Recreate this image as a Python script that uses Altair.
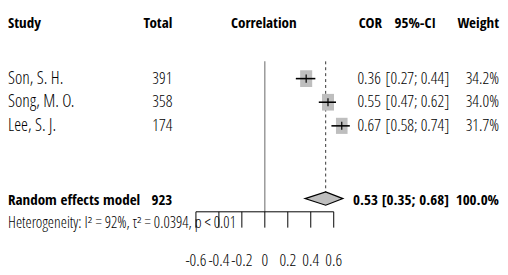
import altair as alt
import pandas as pd

# ---------------- data ----------------
studies = ["Son, S. H.", "Song, M. O.", "Lee, S. J."]
totals = [391, 358, 174]
cor = [0.36, 0.55, 0.67]
ci_lo = [0.27, 0.47, 0.58]
ci_hi = [0.44, 0.62, 0.74]
weights = [34.2, 34.0, 31.7]

pooled_label = "Random effects model"
pooled_total = 923
pooled_cor = 0.53
pooled_lo = 0.35
pooled_hi = 0.68
pooled_weight = 100.0

het_text = "Heterogeneity: I\u00b2 = 92%, \u03c4\u00b2 = 0.0394, p < 0.01"
headers = ["Study", "Total", "Correlation", "COR", "95%-CI", "Weight"]
tick_values = [-0.6, -0.4, -0.2, 0.0, 0.2, 0.4, 0.6]
tick_labels = ["-0.6", "-0.4", "-0.2", "0", "0.2", "0.4", "0.6"]

# ---------------- layout (row units, 24px each) ----------------
W, H = 500, 266
ROW_PX = 24.0
header_row = 0.55
study_rows = [2.9, 3.9, 4.9]
pooled_row = 8.06
het_row = 9.03
axis_row = 8.54
tick_end_row = 9.21
ticklab_row = 10.62
line_top = 2.17
dash_bottom = 7.72
diamond_half = 0.28
cross_half = 0.17

FONT_REG = "Open Sans Condensed Light, DejaVu Sans Condensed, sans-serif"
FONT_BOLD = "Open Sans Condensed, DejaVu Sans Condensed, sans-serif"
FS_REG = 18
FS_NUM = 17
FS_HET = 16
FS_BOLD = 15.3
GREY = "#bebebe"

X0_PX, PX_PER_UNIT = 261, 116.7
xscale = alt.Scale(domain=[-X0_PX / PX_PER_UNIT, (W - X0_PX) / PX_PER_UNIT], nice=False, zero=False)
yscale = alt.Scale(domain=[0, H / ROW_PX], reverse=True, nice=False, zero=False)

def X(field):
    return alt.X(field, type="quantitative", scale=xscale, axis=None)

def Y(field):
    return alt.Y(field, type="quantitative", scale=yscale, axis=None)

studies_df = pd.DataFrame({
    "study": studies, "total": [str(t) for t in totals], "cor": cor,
    "lo": ci_lo, "hi": ci_hi, "weight": weights, "row": study_rows,
})
studies_df["cor_t"] = [f"{c:.2f}" for c in cor]
studies_df["ci_t"] = [f"[{l:.2f}; {h:.2f}]" for l, h in zip(ci_lo, ci_hi)]
studies_df["w_t"] = [f"{w:.1f}%" for w in weights]
studies_df["r1"] = studies_df["row"] - cross_half
studies_df["r2"] = studies_df["row"] + cross_half

zero_line = alt.Chart(pd.DataFrame({"x": [0.0], "y": [line_top], "y2": [axis_row]})).mark_rule(
    color="#808080", strokeWidth=1.2).encode(x=X("x"), y=Y("y"), y2="y2")
dash_line = alt.Chart(pd.DataFrame({"x": [pooled_cor], "y": [line_top], "y2": [dash_bottom]})).mark_rule(
    color="#333333", strokeWidth=1, strokeDash=[3, 3]).encode(x=X("x"), y=Y("y"), y2="y2")

squares = alt.Chart(studies_df).mark_point(
    shape="M-0.72,-1L0.72,-1L0.72,1L-0.72,1Z", filled=True, color=GREY, opacity=1, strokeWidth=0
).encode(x=X("cor"), y=Y("row"),
         size=alt.Size("weight:Q", scale=alt.Scale(domain=[0, 34.2], range=[0, 289]), legend=None))
ci_lines = alt.Chart(studies_df).mark_rule(color="black", strokeWidth=1.6).encode(
    x=X("lo"), x2="hi", y=Y("row"))
cross = alt.Chart(studies_df).mark_rule(color="black", strokeWidth=1.2).encode(
    x=X("cor"), y=Y("r1"), y2="r2")

diamond_df = pd.DataFrame({
    "x": [pooled_lo, pooled_cor, pooled_hi],
    "y": [pooled_row - 0.08, pooled_row - 0.08 - diamond_half, pooled_row - 0.08],
    "y2": [pooled_row - 0.08, pooled_row - 0.08 + diamond_half, pooled_row - 0.08],
})
diamond = alt.Chart(diamond_df).mark_area(fill=GREY, stroke="black", strokeWidth=1.2, opacity=1).encode(
    x=X("x"), y=Y("y"), y2="y2")

axis_line = alt.Chart(pd.DataFrame({"x": [tick_values[0]], "x2": [tick_values[-1]], "y": [axis_row]})).mark_rule(
    color="black", strokeWidth=1).encode(x=X("x"), x2="x2", y=Y("y"))
ticks_df = pd.DataFrame({"x": tick_values, "lab": tick_labels, "y": axis_row, "y2": tick_end_row, "ly": ticklab_row})
ticks = alt.Chart(ticks_df).mark_rule(color="black", strokeWidth=1).encode(x=X("x"), y=Y("y"), y2="y2")
tick_text = alt.Chart(ticks_df).mark_text(font=FONT_REG, fontSize=FS_NUM, align="center", baseline="middle",
                                          color="black").encode(x=X("x"), y=Y("ly"), text="lab")

def text_layer(df, field, xpx, align, bold=False, size=None):
    fs = size if size is not None else (FS_BOLD if bold else FS_REG)
    return alt.Chart(df).mark_text(font=FONT_BOLD if bold else FONT_REG, fontSize=fs,
                                   align=align, baseline="middle", color="black",
                                   fontWeight="bold" if bold else "normal").encode(
        x=alt.value(xpx), y=Y("row"), text=field + ":N")

hdr = lambda i: pd.DataFrame({"t": [headers[i]], "row": [header_row]})
header_layers = [
    text_layer(hdr(0), "t", 0, "left", True),
    text_layer(hdr(1), "t", 167, "right", True),
    text_layer(hdr(2), "t", 260, "center", True),
    text_layer(hdr(3), "t", 380, "right", True),
    text_layer(hdr(4), "t", 435, "right", True),
    text_layer(hdr(5), "t", 499, "right", True),
]
row_layers = [
    text_layer(studies_df, "study", 0, "left"),
    text_layer(studies_df, "total", 167, "right", size=FS_NUM),
    text_layer(studies_df, "cor_t", 379, "right", size=FS_NUM),
    text_layer(studies_df, "ci_t", 416, "center", size=FS_NUM),
    text_layer(studies_df, "w_t", 499, "right", size=FS_NUM),
]
pooled_df = pd.DataFrame({
    "label": [pooled_label], "total": [str(pooled_total)], "cor_t": [f"{pooled_cor:.2f}"],
    "ci_t": [f"[{pooled_lo:.2f}; {pooled_hi:.2f}]"], "w_t": [f"{pooled_weight:.1f}%"], "row": [pooled_row],
})
pooled_layers = [
    text_layer(pooled_df, "label", 0, "left", True),
    text_layer(pooled_df, "total", 167, "right", True),
    text_layer(pooled_df, "cor_t", 376, "right", True),
    text_layer(pooled_df, "ci_t", 414, "center", True),
    text_layer(pooled_df, "w_t", 499, "right", True),
]
het_layer = text_layer(pd.DataFrame({"t": [het_text], "row": [het_row]}), "t", 0, "left", size=FS_HET)

chart = alt.layer(
    zero_line, dash_line, squares, ci_lines, cross, diamond, axis_line, ticks, tick_text,
    *header_layers, *row_layers, *pooled_layers, het_layer,
).properties(width=W, height=H, autosize=alt.AutoSizeParams(type="none"), padding=0,
             background="white").configure_view(stroke=None)

chart.save("out.html", embed_options={"renderer": "svg", "actions": False})
